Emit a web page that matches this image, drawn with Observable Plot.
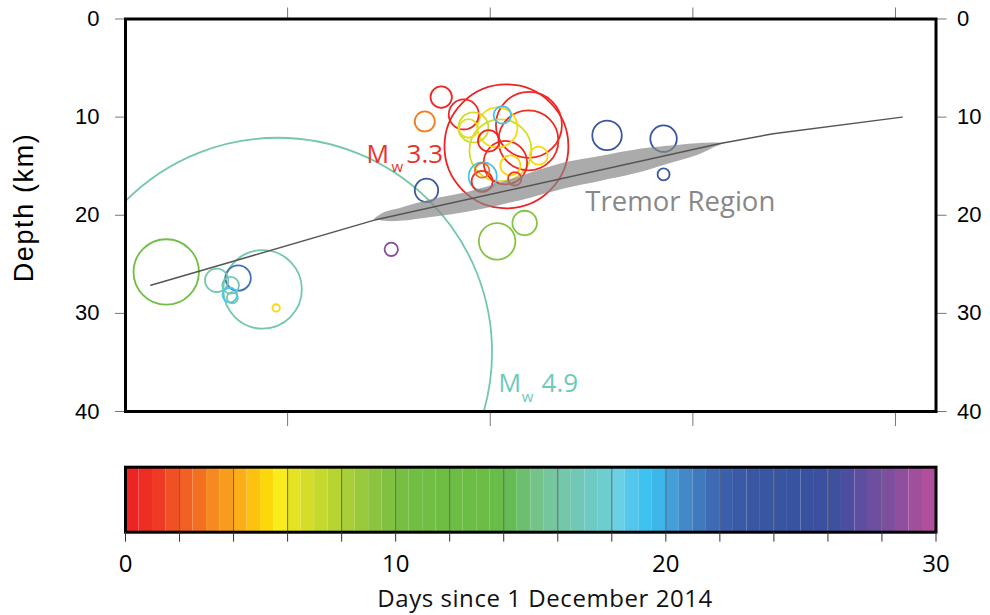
<!DOCTYPE html>
<html>
<head>
<meta charset="utf-8">
<script src="https://cdn.jsdelivr.net/npm/d3@7"></script>
<script src="https://cdn.jsdelivr.net/npm/@observablehq/plot@0.6"></script>
<style>
  html, body { margin: 0; padding: 0; background: #fff; }
  #wrap { position: relative; width: 990px; height: 615px; overflow: hidden; }
  #main { position: absolute; left: 0; top: 0; }
  #bar { position: absolute; left: 0; top: 440px; }
</style>
</head>
<body>
<div id="wrap"><div id="main"></div><div id="bar"></div></div>
<script>
// ---------- Earthquakes (distance km, depth km, source radius km, days since 1 Dec 2014) ----------
const eqX      = [15.16, 13.54, 17.39, 21.60, 23.82, 23.77, 18.34, 17.85, 20.71, 21.01, 21.20, 19.85, 21.50, 21.99, 24.78, 19.26, 19.20, 19.20, 22.42, 13.71, 31.53, 37.11, 37.11, 20.68, 23.40, 10.23, -11.98, -7.00, -4.88, -5.62, -5.70, -5.45, -2.47, -1.13, -0.99];
const eqDepth  = [7.96, 10.44, 9.73, 12.98, 10.79, 12.37, 11.05, 11.15, 11.05, 13.39, 9.78, 12.42, 14.64, 14.92, 13.93, 16.04, 15.43, 16.55, 16.29, 17.46, 11.86, 12.20, 15.84, 22.66, 20.79, 23.47, 25.78, 26.63, 26.40, 27.14, 28.13, 28.41, 27.55, 29.45, 33.96];
const eqRadius = [1.09, 1.02, 1.53, 6.31, 3.36, 3.05, 1.53, 0.95, 2.04, 3.16, 0.89, 1.09, 2.21, 1.02, 0.92, 1.43, 0.74, 1.07, 0.68, 1.19, 1.50, 1.35, 0.61, 1.86, 1.25, 0.68, 3.33, 1.19, 1.29, 0.85, 0.74, 0.56, 4.00, 0.38, 21.84];
const eqDay    = [0.5, 3.0, 0.5, 0.3, 0.5, 0.8, 7.0, 6.5, 5.3, 6.8, 19.2, 0.5, 0.7, 5.2, 5.2, 19.0, 2.5, 1.0, 1.2, 23.0, 23.5, 23.5, 23.5, 9.5, 9.5, 28.5, 11.0, 16.5, 21.5, 16.5, 19.0, 16.5, 16.5, 5.2, 16.3];

// ---------- Slab interface line ----------
const slabX     = [-13.5, 8.48, 42.7, 47.93, 60.65];
const slabDepth = [27.14, 20.52, 12.68, 11.69, 10.0];

// ---------- Tremor region outline ----------
const tremorX      = [8.58, 9.66, 11.14, 14.40, 17.75, 21.01, 24.26, 27.61, 30.87, 34.12, 37.48, 40.73, 42.21, 43.10];
const tremorTop    = [20.37, 19.70, 19.30, 18.38, 17.67, 16.75, 15.63, 14.61, 14.00, 13.39, 12.98, 12.68, 12.63, 12.68];
const tremorBottom = [20.37, 20.62, 20.62, 20.21, 19.70, 19.00, 18.18, 17.26, 16.55, 15.83, 14.82, 13.80, 13.08, 12.68];

// ---------- Colour bar stops (day -> colour) ----------
const cbDays   = [0, 1, 2, 2.75, 3.25, 3.75, 4.25, 4.75, 5.25, 5.75, 6.25, 6.75, 7.25, 7.75, 8.25, 8.75, 9.25, 9.75, 10.5, 13.5, 14.25, 14.75, 15.25, 15.75, 16.5, 17.25, 17.75, 18.25, 18.75, 19.25, 19.75, 20.25, 20.75, 21.25, 21.75, 22.25, 23, 25, 26.25, 26.75, 27.25, 27.75, 28.25, 28.75, 29.25, 29.75, 30];
const cbColors = ["#ed1f24", "#ee3124", "#f15a24", "#f37021", "#f6891f", "#f89c1c", "#fbae17", "#fdc20f", "#fed70b", "#f8ec1f", "#e5e221", "#d4dd27", "#c5d82d", "#b8d433", "#a8ce38", "#99c93c", "#8cc43f", "#80c141", "#72be44", "#6abd45", "#64bb54", "#6dbf6f", "#74c48a", "#75c69f", "#72c7b0", "#6ecbc3", "#6dcdcf", "#6ad0e3", "#54c8ec", "#3ec2ef", "#3db7ea", "#449fd8", "#4389c7", "#3f7abd", "#3e6bb4", "#3c5fab", "#3a57a4", "#3653a0", "#3f509e", "#4c4f9f", "#5e4e9f", "#6c4f9f", "#7d4f9e", "#8f4f9d", "#a04f9c", "#b04f9b", "#b24f9b"];
const cbMajorTicks = [0, 10, 20, 30];
const cbMinorStep = 2;
const cbBandStep = 0.5;

// ---------- Axis ticks ----------
const depthTicks = [0, 10, 20, 30, 40];
const distTicks  = [0, 20, 40, 60];

// ---------- Labels ----------
const labelDepth = "Depth (km)";
const labelDays  = "Days since 1 December 2014";
const labelTremor = "Tremor Region";
const annotations = [
  {x: 7.79, y: 14.71, text: "M", size: 25, color: "#e9322b"},
  {x: 10.26, y: 15.63, text: "w", size: 15, color: "#e9322b"},
  {x: 11.74, y: 14.71, text: "3.3", size: 26, color: "#e9322b"},
  {x: 20.81, y: 38.03, text: "M", size: 25, color: "#6ccab9"},
  {x: 23.10, y: 39.05, text: "w", size: 15, color: "#6ccab9"},
  {x: 25.07, y: 38.03, text: "4.9", size: 26, color: "#6ccab9"}
];
const tremorLabel = {x: 29.39, y: 19.57};

// ---------- Build tables ----------
const quakes = eqX.map((x, i) => ({x, depth: eqDepth[i], r: eqRadius[i], day: eqDay[i]}));
const slab = slabX.map((x, i) => ({x, depth: slabDepth[i]}));
const tremor = tremorX.map((x, i) => ({x, top: tremorTop[i], bottom: tremorBottom[i]}));
const colorOpts = {type: "linear", domain: cbDays, range: cbColors, interpolate: "rgb"};

const main = Plot.plot({
  width: 990, height: 440,
  marginLeft: 125, marginRight: 54.5, marginTop: 18.5, marginBottom: 29,
  x: {domain: [-16, 64]},
  y: {domain: [0, 40], reverse: true},
  r: {type: "linear", domain: [0, 1], range: [0, 9.82]},
  color: colorOpts,
  style: {fontFamily: "'Liberation Sans', Arial, sans-serif", background: "white", overflow: "visible"},
  marks: [
    Plot.dot(quakes, {x: "x", y: "depth", r: "r", stroke: "day", strokeWidth: 1.8, fill: "none", clip: true}),
    Plot.areaY(tremor, {x: "x", y1: "top", y2: "bottom", fill: "#888", fillOpacity: 0.7, curve: "catmull-rom"}),
    Plot.line(slab, {x: "x", y: "depth", stroke: "#555", strokeWidth: 1.5}),
    ...annotations.map(a => Plot.text([a], {x: "x", y: "y", text: "text", fill: a.color, fontSize: a.size, textAnchor: "start", lineAnchor: "bottom", fontFamily: "'Open Sans', sans-serif"})),
    Plot.text([labelTremor], {x: () => tremorLabel.x, y: () => tremorLabel.y, text: d => d, fill: "#888", fontSize: 27.5, textAnchor: "start", lineAnchor: "bottom", fontFamily: "'Open Sans', sans-serif"}),
    Plot.text([labelDepth], {frameAnchor: "left", text: d => d, rotate: -90, textAnchor: "middle", dx: -101, dy: -7, fontSize: 27, fill: "black"}),
    Plot.axisY({anchor: "left", ticks: depthTicks, tickSize: 10, tickPadding: 16, fontSize: 22, stroke: "#777", fill: "black", label: null}),
    Plot.axisY({anchor: "right", ticks: depthTicks, tickSize: 10, tickPadding: 11, fontSize: 22, stroke: "#777", fill: "black", label: null}),
    Plot.axisX({anchor: "top", ticks: distTicks, tickSize: 12, tickFormat: () => "", stroke: "#777", label: null}),
    Plot.axisX({anchor: "bottom", ticks: distTicks, tickSize: 15, tickFormat: () => "", stroke: "#777", label: null}),
    Plot.frame({stroke: "black", strokeWidth: 3})
  ]
});
document.getElementById("main").appendChild(main);

const bands = d3.range(0, 30, cbBandStep).map(d => ({x1: d, x2: d + cbBandStep, day: d + cbBandStep / 2}));
const minor = d3.range(0, 30 + cbMinorStep, cbMinorStep);
const bar = Plot.plot({
  width: 990, height: 175,
  marginLeft: 125, marginRight: 54.5, marginTop: 26.7, marginBottom: 83.3,
  x: {domain: [0, 30]},
  y: {axis: null},
  color: colorOpts,
  style: {fontFamily: "'Open Sans', sans-serif", background: "white", overflow: "visible"},
  marks: [
    Plot.rect(bands, {x1: "x1", x2: "x2", fill: "day"}),
    Plot.ruleX(minor.filter(d => d > 0 && d < 30), {stroke: "#666", strokeWidth: 1}),
    Plot.frame({stroke: "black", strokeWidth: 3}),
    Plot.axisX({anchor: "bottom", ticks: minor, tickSize: 10, tickPadding: 13, fontSize: 24, stroke: "#333",
      tickFormat: d => cbMajorTicks.includes(d) ? String(d) : "", fill: "black", label: null}),
    Plot.text([labelDays], {frameAnchor: "bottom", text: d => d, dx: 14, dy: 74.3, lineAnchor: "bottom", fontSize: 24, fill: "#111"})
  ]
});
document.getElementById("bar").appendChild(bar);

// stretch the two long labels to the reference's measured lengths
function fitText(svg, str, len) {
  svg.querySelectorAll("text").forEach(t => {
    if (t.textContent === str) { t.setAttribute("textLength", len); t.setAttribute("lengthAdjust", "spacing"); }
  });
}
fitText(main, labelDepth, 148);
fitText(bar, labelDays, 335);
</script>
</body>
</html>
